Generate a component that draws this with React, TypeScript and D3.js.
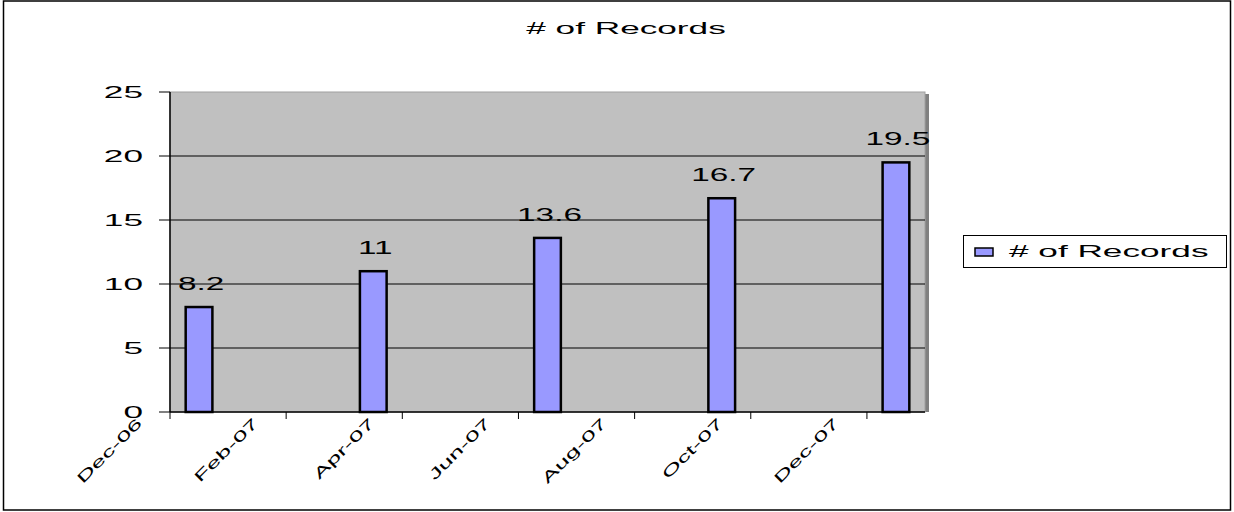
import * as d3 from "d3";

const months = ["Dec-06", "Jan-07", "Feb-07", "Mar-07", "Apr-07", "May-07", "Jun-07", "Jul-07", "Aug-07", "Sep-07", "Oct-07", "Nov-07", "Dec-07"];
const tickLabels = ["Dec-06", "Feb-07", "Apr-07", "Jun-07", "Aug-07", "Oct-07", "Dec-07"];
const barMonths = ["Dec-06", "Mar-07", "Jun-07", "Sep-07", "Dec-07"];
const records = [8.2, 11, 13.6, 16.7, 19.5];
const yTicks = [0, 5, 10, 15, 20, 25];
const seriesName = "# of Records";

const W = 1234;
const H = 512;
const left = 170;
const right = 925;
const top = 92;
const bottom = 412;
const font = "'Liberation Sans', Arial, sans-serif";

function Wide({ x, y, sx = 2.2, size = 16, anchor = "start", children }: any) {
  return (
    <text
      transform={`translate(${x},${y}) scale(${sx},1)`}
      textAnchor={anchor}
      fontSize={size}
      fontFamily={font}
      fill="#000"
    >
      {children}
    </text>
  );
}

export default function App() {
  const x = d3.scaleBand<string>().domain(months).range([left, right]).paddingInner(0.54).paddingOuter(0.27);
  const slot = d3.scaleBand<string>().domain(months).range([left, right]);
  const y = d3.scaleLinear().domain([0, 25]).range([bottom, top]);

  return (
    <svg width={W} height={H} style={{ position: "absolute", left: 0, top: 0 }}>
      <rect x={0} y={0} width={W} height={H} fill="#fff" />
      <rect x={3.5} y={1} width={1227} height={509} fill="none" stroke="#000" strokeWidth={1.5} />

      <Wide x={626} y={34} anchor="middle">{seriesName}</Wide>

      {/* plot area */}
      <rect x={right} y={top + 2} width={4} height={bottom - top - 2} fill="#808080" />
      <rect x={left} y={top} width={right - left} height={bottom - top} fill="#c0c0c0" stroke="#a0a0a0" strokeWidth={1} />

      {yTicks.filter(t => t > 0 && t < 25).map(t => (
        <line key={t} x1={left} x2={right} y1={y(t)} y2={y(t)} stroke="#000" strokeWidth={1} />
      ))}

      {records.map((v, i) => (
        <rect
          key={barMonths[i]}
          x={x(barMonths[i])}
          y={y(v)}
          width={x.bandwidth()}
          height={y(0) - y(v)}
          fill="#9999ff"
          stroke="#000"
          strokeWidth={2.5}
        />
      ))}

      {/* axes */}
      <line x1={left} x2={left} y1={top} y2={bottom} stroke="#000" strokeWidth={1.5} />
      <line x1={left} x2={right} y1={bottom} y2={bottom} stroke="#000" strokeWidth={1.5} />
      {yTicks.map(t => (
        <g key={t}>
          <line x1={left - 11} x2={left} y1={y(t)} y2={y(t)} stroke="#000" strokeWidth={1} />
          <Wide x={143} y={y(t) + 6} anchor="end">{t}</Wide>
        </g>
      ))}
      {tickLabels.map(m => {
        const tx = slot(m) as number;
        return (
          <g key={m}>
            <line x1={tx} x2={tx} y1={bottom} y2={bottom + 7} stroke="#000" strokeWidth={1} />
            <text
              transform={`translate(${tx - 27},${bottom + 12}) rotate(-45) scale(1.65,0.9)`}
              textAnchor="end"
              fontSize={16}
              fontFamily={font}
              fill="#000"
            >
              {m}
            </text>
          </g>
        );
      })}

      {/* data labels */}
      {records.map((v, i) => (
        <Wide key={i} x={(x(barMonths[i]) as number) + x.bandwidth() / 2 + 2} y={y(v) - 17} sx={1.85} size={18} anchor="middle">
          {v}
        </Wide>
      ))}

      {/* legend */}
      <rect x={963.5} y={235.5} width={263} height={32} fill="#fff" stroke="#000" strokeWidth={1} />
      <rect x={975} y={248} width={18} height={8} fill="#9999ff" stroke="#000" strokeWidth={1.5} />
      <Wide x={1009} y={257}>{seriesName}</Wide>
    </svg>
  );
}
